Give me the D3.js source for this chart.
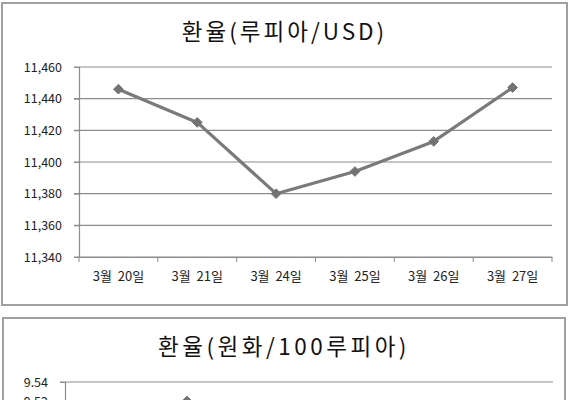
<!DOCTYPE html>
<html>
<head>
<meta charset="utf-8">
<script src="https://cdn.jsdelivr.net/npm/d3@7"></script>
<style>
  body { margin: 0; background: #fff; }
  svg { display: block; }
</style>
</head>
<body>
<svg id="chart" width="571" height="400"></svg>
<script>
// dates shared by both charts
const dates = ["3월 20일", "3월 21일", "3월 24일", "3월 25일", "3월 26일", "3월 27일"];

// rupiah per USD
const usdTitle = "환율(루피아/USD)";
const usdValues = [11446, 11425, 11380, 11394, 11413, 11447];
const usdTicks = [11340, 11360, 11380, 11400, 11420, 11440, 11460];

// won per 100 rupiah (only the top is visible)
const krwTitle = "환율(원화/100루피아)";
const krwValues = [9.49, 9.52, 9.47, 9.46, 9.45, 9.42];
const krwTicks = [9.40, 9.42, 9.44, 9.46, 9.48, 9.50, 9.52, 9.54];

const svg = d3.select("#chart");
const font = "'Noto Sans CJK KR', 'Noto Sans', sans-serif";

function drawPanel(opt) {
  const g = svg.append("g");

  // frame
  g.append("rect")
    .attr("x", opt.box[0]).attr("y", opt.box[1])
    .attr("width", opt.box[2]).attr("height", opt.box[3])
    .attr("fill", "#fff")
    .attr("stroke", "#a0a0a0")
    .attr("stroke-width", 2);

  // title
  g.append("text")
    .attr("x", opt.box[0] + opt.box[2] / 2)
    .attr("y", opt.titleY)
    .attr("text-anchor", "middle")
    .attr("font-family", font)
    .attr("font-size", 22.5)
    .attr("letter-spacing", opt.spacing)
    .attr("fill", "#111")
    .text(opt.title);

  const x = d3.scaleBand()
    .domain(opt.dates)
    .range([opt.left, opt.right]);

  const y = d3.scaleLinear()
    .domain(d3.extent(opt.ticks))
    .range([opt.bottom, opt.top]);

  // gridlines
  g.append("g")
    .selectAll("line")
    .data(opt.ticks)
    .join("line")
    .attr("x1", opt.left - 5).attr("x2", opt.right)
    .attr("y1", d => y(d)).attr("y2", d => y(d))
    .attr("stroke", "#8c8c8c")
    .attr("stroke-width", 1.2);

  // y axis
  const yAxis = g.append("g")
    .attr("transform", `translate(${opt.left},0)`)
    .call(d3.axisLeft(y).tickValues(opt.ticks).tickSize(5).tickPadding(12).tickFormat(opt.fmt));
  yAxis.select(".domain").attr("stroke", "#8c8c8c").attr("stroke-width", 1.2);
  yAxis.selectAll(".tick line").attr("stroke", "#8c8c8c");
  yAxis.selectAll("text")
    .attr("font-family", font)
    .attr("font-size", 12.5)
    .attr("fill", "#222");

  // x axis
  const xAxis = g.append("g")
    .attr("transform", `translate(0,${opt.bottom})`)
    .call(d3.axisBottom(x).tickSize(0).tickPadding(15));
  xAxis.select(".domain").attr("stroke", "#8c8c8c").attr("stroke-width", 1.2);
  xAxis.selectAll("text")
    .attr("font-family", font)
    .attr("font-size", 13)
    .attr("fill", "#222")
    .attr("xml:space", "preserve")
    .text(d => d.replace(" ", "  "));

  // band boundary ticks
  g.append("g")
    .selectAll("line")
    .data(opt.dates.concat([null]))
    .join("line")
    .attr("x1", (d, i) => opt.left + i * x.bandwidth())
    .attr("x2", (d, i) => opt.left + i * x.bandwidth())
    .attr("y1", opt.bottom).attr("y2", opt.bottom + 5)
    .attr("stroke", "#8c8c8c");

  const cx = (d, i) => x(opt.dates[i]) + x.bandwidth() / 2;

  // line
  g.append("path")
    .datum(opt.values)
    .attr("fill", "none")
    .attr("stroke", "#7a7a7a")
    .attr("stroke-width", 3.2)
    .attr("stroke-linejoin", "round")
    .attr("d", d3.line().x(cx).y(d => y(d)));

  // diamond markers
  g.append("g")
    .selectAll("path")
    .data(opt.values)
    .join("path")
    .attr("transform", (d, i) => `translate(${cx(d, i)},${y(d)})`)
    .attr("d", d3.symbol(d3.symbolDiamond2, 60))
    .attr("fill", "#737373")
    .attr("stroke", "#737373")
    .attr("stroke-width", 1);

  return g;
}

drawPanel({
  box: [2, 3, 565, 302],
  title: usdTitle,
  titleY: 40,
  spacing: 3,
  dates: dates,
  values: usdValues,
  ticks: usdTicks,
  fmt: d3.format(","),
  left: 79, right: 552, top: 67, bottom: 257
});

drawPanel({
  box: [3, 318, 562, 260],
  title: krwTitle,
  titleY: 355,
  spacing: 3.5,
  dates: dates,
  values: krwValues,
  ticks: krwTicks,
  fmt: d3.format(".2f"),
  left: 65, right: 553, top: 382, bottom: 515
});
</script>
</body>
</html>
